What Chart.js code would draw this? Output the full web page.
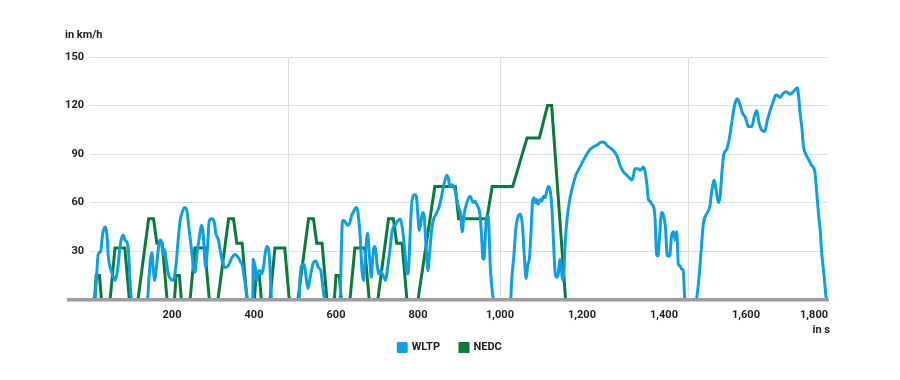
<!DOCTYPE html>
<html>
<head>
<meta charset="utf-8">
<script src="https://cdn.jsdelivr.net/npm/chart.js@4/dist/chart.umd.min.js"></script>
<style>
  html, body { margin: 0; padding: 0; background: #ffffff; }
  #wrap { width: 900px; height: 380px; }
</style>
</head>
<body>
<div id="wrap"><canvas id="c" width="900" height="380"></canvas></div>
<script>
// ---- data ----
const seriesNames = ["WLTP", "NEDC"];

const wltpTime = [
  0,12,15,20,26,31,37,41,45,49,53,57,61,65,68,72,76,81,85,91,94,98,102,
  140,144,148,151,154,158,162,166,171,175,178,182,186,191,196,203,210,215,220,226,232,237,241,248,252,256,260,268,272,276,282,286,291,297,303,307,313,321,329,337,346,354,362,368,372,376,381,385,
  397,398,403,407,411,415,419,423,427,431,435,439,443,
  510,512,516,520,524,528,532,537,545,551,557,563,567,573,
  610,613,616,620,625,630,634,638,642,646,649,653,656,659,662,664,667,670,673,677,680,683,686,689,692,695,698,701,705,708,711,715,721,725,728,732,736,740,744,748,752,756,760,764,768,772,776,779,782,785,788,792,796,799,803,806,811,815,818,822,824,828,832,837,842,846,851,856,862,867,870,874,878,882,887,891,894,899,904,908,912,918,927,931,935,939,943,947,951,955,958,961,964,967,971,973,976,980,985,
  1026,1028,1034,1039,1045,1050,1055,1059,1064,1068,1072,1075,1079,1083,1086,1089,1093,1098,1102,1106,1110,1114,1118,1122,1126,1130,1134,1138,1142,1146,1150,1153,1156,1159,1164,1171,1179,1185,1191,1197,1203,1212,1220,1228,1236,1248,1256,1262,1268,1277,1285,1293,1301,1309,1317,1322,1325,1329,1337,1342,1350,1354,1358,1362,1366,1370,1374,1378,1382,1385,1389,1394,1399,1404,1408,1414,1418,1423,1427,1431,1435,1439,1443,1447,1451,
  1478,1484,1488,1492,1496,1504,1512,1516,1522,1527,1533,1537,1541,1546,1553,1559,1565,1573,1579,1586,1592,1598,1606,1614,1620,1626,1632,1638,1646,1652,1659,1667,1673,1678,1683,1691,1699,1707,1715,1721,1725,1729,1732,1736,1740,1746,1752,1760,1768,1772,1778,1781,1785,1790,1797,1800
];
const wltpSpeed = [
  0,0,10,28,30,41,45,41,26,20,17,14,12,15,20,30,37,40,37,35,30,10,0,
  0,14,26,29,20,12,20,30,37,35,28,31,24,16,13,12,22,37,49,55,57,54,45,30,20,17,26,41,46,41,20,30,49,50,48,41,37,26,20,21,26,28,26,23,21,14,6,0,
  0,25,20,12,18,18,16,20,28,33,32,20,0,
  0,12,21,22,20,12,7,14,23,24,20,18,10,0,
  0,30,49,49,47,46,48,52,54,56,57,55,48,39,24,16,12,20,32,41,33,22,14,24,32,33,28,20,16,18,17,15,12,18,24,32,41,45,46,48,49,50,47,40,30,18,16,30,48,60,64,65,64,55,43,46,54,52,40,24,18,28,40,49,52,54,57,62,70,75,77,75,70,71,70,67,63,57,53,42,52,59,64,62,60,61,59,57,53,40,26,25,38,51,52,45,22,8,0,
  0,10,28,45,52,53,45,28,13,22,26,39,59,63,60,62,59,62,61,64,63,67,70,68,59,39,18,14,16,25,18,12,18,35,51,63,72,77,80,83,86,90,93,94.5,95.5,97.5,97,95,94,92,89,83,79,77,75,74,76,81,81,80,82,79,72,62,61,59,58,51,28,27,38,54,52,43,27,27,39,42,37,42,22,21,19,18,0,
  0,10,22,35,47,53,58,66,74,68,60,64,78,90,93,99,109,121,124,120,115,113,107,107,113,117,109,105,104,111,117,123,126.5,126,125,127.5,128.5,127,128.5,130,131,124,115,107,95,90,87,83,79,68,50,43,28,16,0,0
];

const nedcTime = [
  0,11,15,23,28,49,61,85,96,117,143,155,163,176,188,
  206,210,218,223,244,256,280,291,312,338,350,358,371,383,
  401,405,413,418,439,451,475,486,507,533,545,553,566,578,
  596,600,608,613,634,646,670,681,702,728,740,748,761,773,
  800,841,891,899,968,981,1031,1066,1096,1116,1126,1160,1180
];
const nedcSpeed = [
  0,0,15,15,0,0,32,32,0,0,50,50,35,35,0,
  0,15,15,0,0,32,32,0,0,50,50,35,35,0,
  0,15,15,0,0,32,32,0,0,50,50,35,35,0,
  0,15,15,0,0,32,32,0,0,50,50,35,35,0,
  0,70,70,50,50,70,70,100,100,120,120,0,0
];

const xTickLabels = [200, 400, 600, 800, 1000, 1200, 1400, 1600, 1800];
const xGridMarks = [483, 1002, 1459];
const yTickValues = [0, 30, 60, 90, 120, 150];
const yAxisTitle = "in km/h";
const xAxisTitle = "in s";

// ---- styling ----
const BLUE = "#0c9fe2";
const GREEN = "#0a7a3c";
const TEXT = "#1d1d1b";
const GRID = "#dedede";
const FONT = { family: "Roboto, 'Open Sans', sans-serif", size: 11, weight: "bold" };

const toPoints = (xs, ys) => xs.map((x, i) => ({ x: x, y: ys[i] }));

const annotations = {
  id: "annotations",
  afterLayout(chart) {
    // centre the legend on the canvas and lift it slightly, as in the reference
    const lg = chart.legend;
    if (lg) {
      const shift = chart.width / 2 - (lg.left + lg.right) / 2;
      lg.left += shift;
      lg.right += shift;
      lg.top -= 9;
      lg.bottom -= 9;
    }
  },
  afterDatasetsDraw(chart) {
    const { ctx, chartArea, scales } = chart;
    const y0 = scales.y.getPixelForValue(0);
    ctx.save();
    ctx.strokeStyle = "#9d9d9d";
    ctx.lineWidth = 3.5;
    ctx.beginPath();
    ctx.moveTo(chartArea.left - 23, y0);
    ctx.lineTo(chartArea.right + 1, y0);
    ctx.stroke();
    ctx.restore();
  },
  afterDraw(chart) {
    const { ctx, chartArea } = chart;
    ctx.save();
    ctx.fillStyle = TEXT;
    ctx.font = "bold 11px Roboto, 'Open Sans', sans-serif";
    ctx.textBaseline = "middle";
    ctx.textAlign = "left";
    ctx.fillText(yAxisTitle, chartArea.left - 25, chartArea.top - 22);
    ctx.textAlign = "right";
    ctx.fillText(xAxisTitle, chartArea.right + 2, chartArea.bottom + 30);
    ctx.restore();
  }
};

new Chart(document.getElementById("c"), {
  type: "line",
  data: {
    datasets: [
      {
        label: seriesNames[0],
        data: toPoints(wltpTime, wltpSpeed),
        borderColor: BLUE,
        backgroundColor: BLUE,
        borderWidth: 3,
        pointRadius: 0,
        cubicInterpolationMode: "monotone",
        borderJoinStyle: "round",
        borderCapStyle: "round",
        fill: false
      },
      {
        label: seriesNames[1],
        data: toPoints(nedcTime, nedcSpeed),
        borderColor: GREEN,
        backgroundColor: GREEN,
        borderWidth: 3,
        pointRadius: 0,
        tension: 0,
        borderJoinStyle: "miter",
        fill: false
      }
    ]
  },
  options: {
    responsive: false,
    animation: false,
    layout: { padding: { left: 55, right: 72, top: 57, bottom: 8 } },
    scales: {
      x: {
        type: "linear",
        min: 0,
        max: 1800,
        afterBuildTicks: (scale) => {
          const vals = [0].concat(xTickLabels, xGridMarks).sort((a, b) => a - b);
          scale.ticks = vals.map((v) => ({ value: v }));
        },
        ticks: {
          autoSkip: false,
          maxRotation: 0,
          align: "inner",
          padding: 9,
          color: TEXT,
          font: FONT,
          callback: (v) => (xTickLabels.includes(v) ? v.toLocaleString("en-US") : "")
        },
        grid: {
          drawTicks: false,
          lineWidth: 1,
          color: (c) => (c.tick && xGridMarks.includes(c.tick.value) ? GRID : "rgba(0,0,0,0)")
        },
        border: { display: false }
      },
      y: {
        min: 0,
        max: 150,
        afterBuildTicks: (scale) => {
          scale.ticks = yTickValues.map((v) => ({ value: v }));
        },
        afterFit: (scale) => { scale.width = 35; },
        ticks: {
          padding: 6,
          color: TEXT,
          font: FONT,
          callback: (v) => (v === 0 ? "" : String(v))
        },
        grid: {
          drawTicks: false,
          lineWidth: 1,
          color: (c) => (c.tick && c.tick.value === 0 ? "rgba(0,0,0,0)" : GRID)
        },
        border: { display: false }
      }
    },
    plugins: {
      legend: {
        position: "bottom",
        labels: {
          boxWidth: 8,
          boxHeight: 8,
          padding: 20,
          color: TEXT,
          font: FONT
        }
      },
      tooltip: { enabled: false }
    }
  },
  plugins: [annotations]
});
</script>
</body>
</html>
